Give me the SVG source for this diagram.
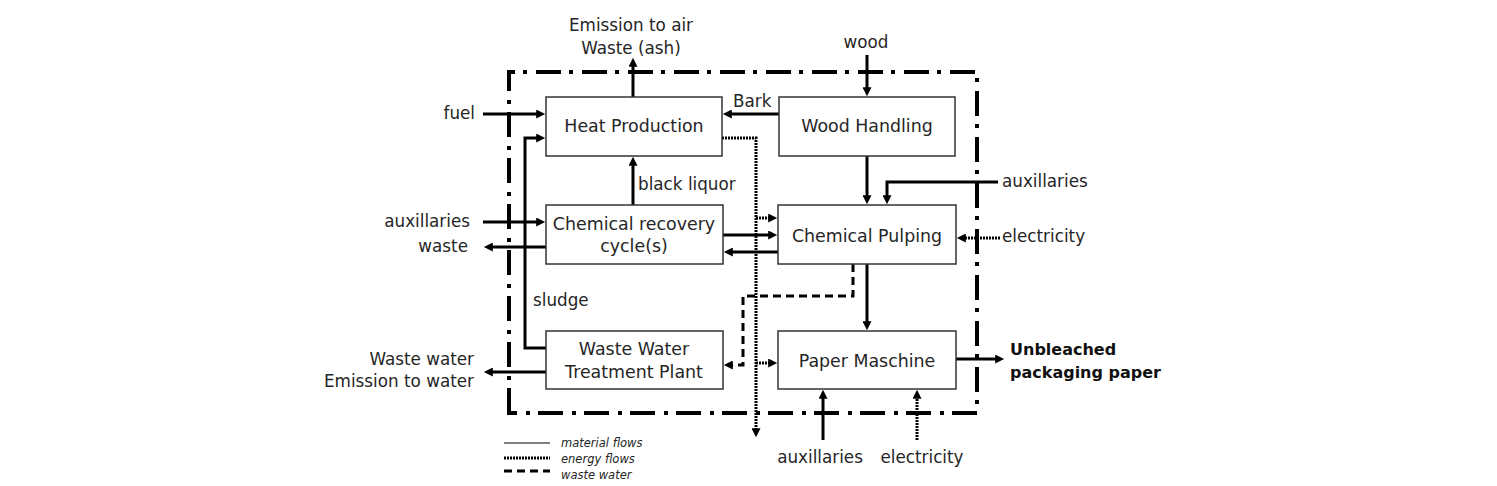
<svg xmlns="http://www.w3.org/2000/svg" width="1497" height="486" viewBox="0 0 1497 486">
<style>
text{font-family:"DejaVu Sans","Liberation Sans",sans-serif;font-size:16.8px;fill:#262626}
.bx{font-size:17.4px}
.c{text-anchor:middle}
.r{text-anchor:end}
.b{font-weight:bold;fill:#111;font-size:16px}
.lg{font-size:11.5px;font-style:italic}
.box{fill:#fff;stroke:#333;stroke-width:1.5}
.m{fill:none;stroke:#000;stroke-width:3;marker-end:url(#ah)}
.e{fill:none;stroke:#000;stroke-width:3;stroke-dasharray:2 1;marker-end:url(#ah)}
.w{fill:none;stroke:#000;stroke-width:3;stroke-dasharray:8 5;marker-end:url(#ah)}
.bd{fill:none;stroke:#000;stroke-width:4;stroke-dasharray:25 8 4 9}
</style>
<defs>
<marker id="ah" viewBox="0 0 10 10" refX="2" refY="5" markerWidth="10" markerHeight="9" markerUnits="userSpaceOnUse" orient="auto">
<path d="M0,0 L10,5 L0,10 z" fill="#000"/>
</marker>
</defs>
<rect width="1497" height="486" fill="#fff"/>
<path id="boundary" class="bd" d="M509,413 V72 H977 V413 Z"/>
<g id="connectors">
<path class="m" d="M633,97 V65"/>
<path class="m" d="M867,55 V89"/>
<path class="m" d="M779,114 H730"/>
<path class="m" d="M483,114 H538"/>
<path class="m" d="M546,348 H525 V138 H538"/>
<path class="m" d="M633,205 V164"/>
<path class="m" d="M483,222 H538"/>
<path class="m" d="M546,247 H491"/>
<path class="m" d="M723,235 H770"/>
<path class="m" d="M778,252 H731"/>
<path class="m" d="M867,156 V197"/>
<path class="m" d="M998,182 H887 V197"/>
<path class="m" d="M867,264 V323"/>
<path class="m" d="M956,359 H997"/>
<path class="m" d="M546,372 H491"/>
<path class="m" d="M823,440 V397"/>
<path class="e" d="M722,138 H756 V430"/>
<path class="e" d="M756,218 H770"/>
<path class="e" d="M756,363 H770"/>
<path class="e" d="M1000,238 H964"/>
<path class="e" d="M917,440 V397"/>
<path class="w" d="M853,264 V296 H743 V365 H731"/>
</g>
<g id="heat"><rect class="box" x="546" y="97" width="176" height="59"/><text class="c bx" x="634" y="132">Heat Production</text></g>
<g id="wood-handling"><rect class="box" x="779" y="97" width="176" height="59"/><text class="c bx" x="867" y="132">Wood Handling</text></g>
<g id="chem-recovery"><rect class="box" x="546" y="205" width="177" height="59"/><text class="c bx" x="634" y="230">Chemical recovery</text><text class="c bx" x="634" y="252">cycle(s)</text></g>
<g id="chem-pulping"><rect class="box" x="778" y="205" width="178" height="59"/><text class="c bx" x="867" y="242">Chemical Pulping</text></g>
<g id="wwtp"><rect class="box" x="546" y="331" width="177" height="58"/><text class="c bx" x="634" y="355">Waste Water</text><text class="c bx" x="634" y="378">Treatment Plant</text></g>
<g id="paper"><rect class="box" x="778" y="331" width="178" height="58"/><text class="c bx" x="867" y="367">Paper Maschine</text></g>
<g id="labels">
<text class="c" x="631" y="31">Emission to air</text>
<text class="c" x="631" y="54">Waste (ash)</text>
<text class="c" x="866" y="48">wood</text>
<text x="733" y="107">Bark</text>
<text class="r" x="475" y="119">fuel</text>
<text x="638" y="190">black liquor</text>
<text class="r" x="470" y="227">auxillaries</text>
<text class="r" x="468" y="252">waste</text>
<text x="1002" y="187">auxillaries</text>
<text x="1002" y="242">electricity</text>
<text x="533" y="306">sludge</text>
<text class="r" x="474" y="365">Waste water</text>
<text class="r" x="474" y="387">Emission to water</text>
<text class="b" x="1010" y="355">Unbleached</text>
<text class="b" x="1010" y="378">packaging paper</text>
<text class="c" x="820" y="463">auxillaries</text>
<text class="c" x="922" y="463">electricity</text>
</g>
<g id="legend">
<line x1="504" y1="443" x2="550" y2="443" stroke="#000" stroke-width="1"/>
<line x1="504" y1="458" x2="550" y2="458" stroke="#000" stroke-width="3" stroke-dasharray="2 1"/>
<line x1="504" y1="471" x2="550" y2="471" stroke="#000" stroke-width="3" stroke-dasharray="8 5"/>
<text class="lg" x="561" y="447">material flows</text>
<text class="lg" x="561" y="463">energy flows</text>
<text class="lg" x="561" y="479">waste water</text>
</g>
</svg>
